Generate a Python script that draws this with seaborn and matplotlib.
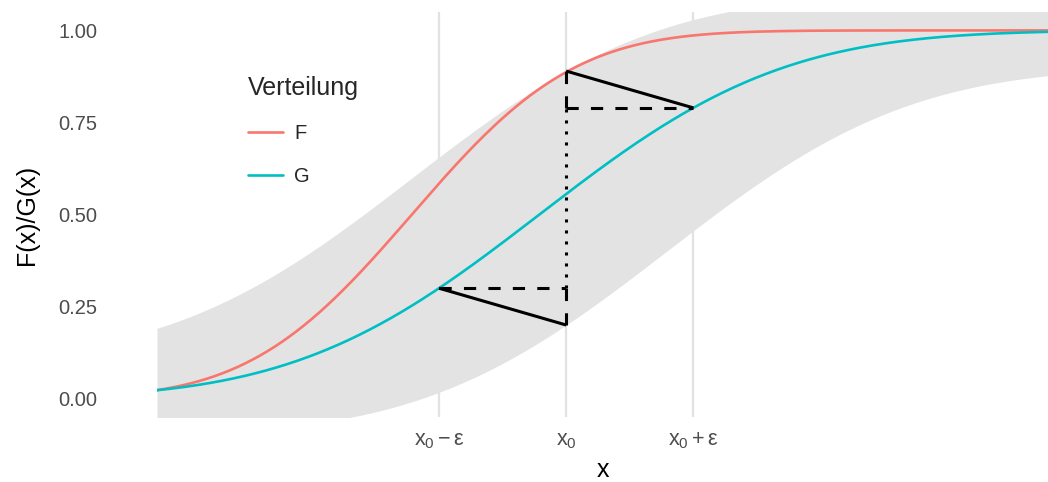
import math
import numpy as np
import pandas as pd
import matplotlib
matplotlib.use("Agg")
import matplotlib.pyplot as plt
import seaborn as sns

# Distribution parameters (normal CDFs) and the Lévy-distance construction
dist_names = ["F", "G"]
dist_means = [-0.667, 0.0]
dist_sds = [0.667, 1.0]
x_range = [-2.0, 2.66]
x0 = 0.14
eps_x = 0.665      # horizontal shift epsilon (x units)
eps_y = 0.10       # vertical shift epsilon (probability units)
tick_labels = [r"$\mathregular{x_0-ε}$", r"$\mathregular{x_0}$", r"$\mathregular{x_0+ε}$"]
y_ticks = [0.00, 0.25, 0.50, 0.75, 1.00]

palette = {"F": "#F8766D", "G": "#00BFC4"}


def norm_cdf(x, mu, sd):
    z = (np.asarray(x, dtype=float) - mu) / (sd * math.sqrt(2.0))
    return 0.5 * (1.0 + np.vectorize(math.erf)(z))


xs = np.linspace(x_range[0], x_range[1], 600)
frames = []
for name, mu, sd in zip(dist_names, dist_means, dist_sds):
    frames.append(pd.DataFrame({"x": xs, "y": norm_cdf(xs, mu, sd), "Verteilung": name}))
df = pd.concat(frames, ignore_index=True)

g_mu, g_sd = dist_means[1], dist_sds[1]
f_mu, f_sd = dist_means[0], dist_sds[0]
band_lo = norm_cdf(xs - eps_x, g_mu, g_sd) - eps_y
band_hi = norm_cdf(xs + eps_x, g_mu, g_sd) + eps_y

sns.set_theme(style="white")
plt.rcParams["font.family"] = ["Liberation Sans", "DejaVu Sans"]
plt.rcParams["mathtext.fontset"] = "custom"
plt.rcParams["mathtext.rm"] = "Liberation Sans"
plt.rcParams["mathtext.it"] = "Liberation Sans:italic"

fig = plt.figure(figsize=(10.48, 4.82), dpi=100)
ax = fig.add_axes([157 / 1048, 1 - 417 / 482, (1048 - 157) / 1048, (417 - 12) / 482])

# Ribbon
ax.fill_between(xs, band_lo, band_hi, color="#E3E3E3", linewidth=0, zorder=1)

# Vertical reference lines
xt = [x0 - eps_x, x0, x0 + eps_x]
for v in xt:
    ax.axvline(v, color="#D9D9D9", lw=1.6, alpha=0.75, zorder=0.5)

sns.lineplot(data=df, x="x", y="y", hue="Verteilung", palette=palette,
             lw=1.9, ax=ax, zorder=3)

# Construction segments
g_left = float(norm_cdf(x0 - eps_x, g_mu, g_sd))
g_right = float(norm_cdf(x0 + eps_x, g_mu, g_sd))
lw = 2.2
ax.plot([x0 - eps_x, x0], [g_left, g_left - eps_y], color="black", lw=lw, zorder=4, solid_capstyle="butt")
ax.plot([x0, x0 + eps_x], [g_right + eps_y, g_right], color="black", lw=lw, zorder=4, solid_capstyle="butt")
ax.plot([x0 - eps_x, x0], [g_left, g_left], color="black", lw=lw, ls=(0, (4, 4)), zorder=4)
ax.plot([x0, x0 + eps_x], [g_right, g_right], color="black", lw=lw, ls=(0, (4, 4)), zorder=4)
ax.plot([x0, x0], [g_left - eps_y, g_left], color="black", lw=lw, ls=(0, (4, 4)), zorder=4)
ax.plot([x0, x0], [g_right, g_right + eps_y], color="black", lw=lw, ls=(0, (4, 4)), zorder=4)
ax.plot([x0, x0], [g_left, g_right], color="black", lw=lw, ls=(0, (1, 2.6)), zorder=4)

ax.set_xlim(x_range[0], x_range[1])
ax.set_ylim(-0.05, 1.05)
ax.set_xticks(xt)
ax.set_xticklabels(tick_labels)
ax.set_yticks(y_ticks)
ax.set_yticklabels([f"{v:.2f}" for v in y_ticks])
ax.tick_params(axis="both", length=0, labelsize=14.5, labelcolor="#4D4D4D")
ax.tick_params(axis="x", labelsize=15.5, pad=9)
ax.tick_params(axis="y", pad=43)
for s in ax.spines.values():
    s.set_visible(False)
ax.grid(False)

ax.set_xlabel("x", fontsize=18, color="black")
ax.set_ylabel("F(x)/G(x)", fontsize=18, color="black")
ax.xaxis.set_label_coords(0.5, (417 - 470) / 405)
ax.xaxis.label.set_va("center")
ax.yaxis.set_label_coords((27 - 157) / 891, 0.5)
ax.yaxis.label.set_va("center")

handles, labels = ax.get_legend_handles_labels()
leg = ax.legend(handles, labels, title="Verteilung", frameon=False,
                loc="upper left", bbox_to_anchor=(238 / 1048, 1 - 66 / 482),
                bbox_transform=fig.transFigure, borderpad=0,
                fontsize=14.5, title_fontsize=18, handlelength=1.75,
                handletextpad=0.55, labelspacing=1.2)
leg._legend_box.align = "left"
for h in leg.get_lines():
    h.set_linewidth(1.9)

fig.savefig("out.png", dpi=100)
